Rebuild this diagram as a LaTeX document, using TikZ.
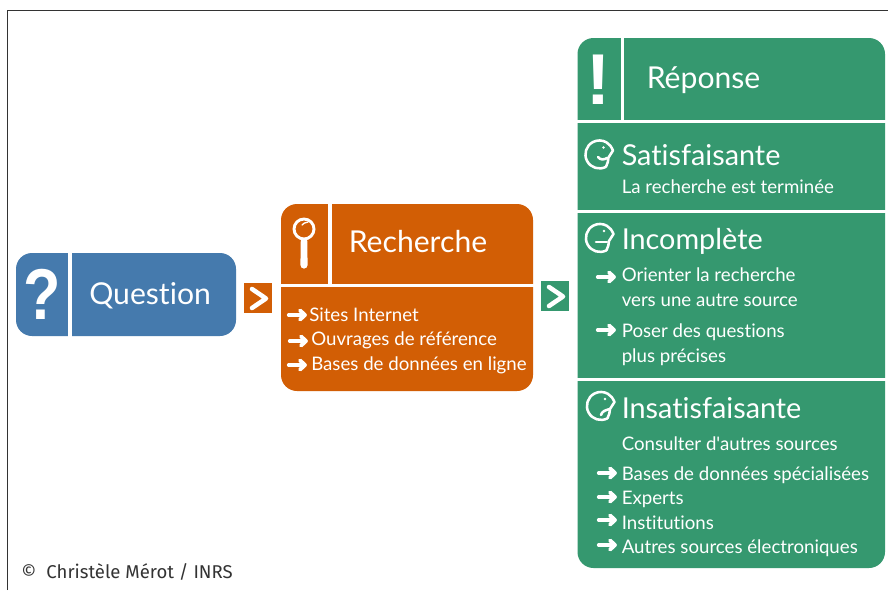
\documentclass[tikz,border=0pt]{standalone}
\usepackage{fontspec}
\setmainfont{Lato}
\newfontfamily\latoplain{Lato}[Ligatures=NoCommon]
\newfontfamily\credit{Fira Sans}
\newfontfamily\signfont{Liberation Sans}
\definecolor{qblue}{HTML}{457AAD}
\definecolor{rorange}{HTML}{D25E05}
\definecolor{agreen}{HTML}{35986F}
\definecolor{ink}{HTML}{333333}
\tikzset{
  title/.style={anchor=base west,inner sep=0pt,text=white,font=\latoplain\fontsize{22.6}{26}\selectfont},
  state/.style={anchor=base west,inner sep=0pt,text=white,font=\latoplain\fontsize{21.6}{26}\selectfont},
  body/.style={anchor=base west,inner sep=0pt,text=white,font=\latoplain\fontsize{14}{16}\selectfont},
  mark sign/.style={anchor=center,inner sep=0pt,text=white,font=\signfont\fontsize{54}{54}\selectfont\bfseries},
  sep/.style={draw=white,line width=2.4pt},
  whiteline/.style={draw=white,line width=1.9pt,line cap=round,line join=round},
  chev/.style={draw=white,line width=3.4pt,line cap=round,line join=round},
  pics/goarrow/.style={code={
    \draw[draw=white,line width=2.4pt,line cap=round] (-8.5,0) -- (6,0);
    \draw[draw=white,line width=2.9pt,line cap=round,line join=round] (3,-4.6) -- (8,0) -- (3,4.6);
  }},
  pics/headshape/.style={code={
    \draw[whiteline] (6.5,12.3) arc[start angle=62,end angle=300,radius=14]
      .. controls (10,-10.5) and (12,-7.5) .. (13.5,-4) -- (9,3) .. controls (9,6) and (8,9) .. (6.5,12.3);
    \fill[white] (4,-7) circle[radius=1.4];
  }}
}
\begin{document}
\begin{tikzpicture}[x=0.75pt,y=-0.75pt]
\useasboundingbox (0,0) rectangle (888,590);
\fill[white] (0,0) rectangle (888,590);
\draw[draw=ink,line width=0.9pt] (7.5,590) -- (7.5,10.5) -- (888,10.5);

% Question panel
\fill[qblue,rounded corners=12pt] (16,253) rectangle (236,336);
\draw[sep] (70,252) -- (70,337);
\node[mark sign,xscale=0.85] (qmark) at (42,294) {?};
\node[title] (question) at (89,304) {Question};

% first chevron
\fill[rorange] (244,283) rectangle (272,313);
\draw[chev] (252,289) -- (266,298.5) -- (252,308);

% Recherche panel
\fill[rorange,rounded corners=12pt] (281,204) rectangle (533,391);
\draw[sep] (330,203) -- (330,285);
\draw[sep] (280,285.5) -- (534,285.5);
\draw[draw=white,line width=2.2pt] (304,229) circle[radius=10];
\fill[white] (300.8,238) -- (307.2,238) -- (307.6,265) arc[start angle=0,end angle=180,radius=3.6] -- cycle;
\draw[draw=white,line width=1pt,line cap=round] (302,225) .. controls (303,223.5) and (305,222.5) .. (308,222);
\node[title] (recherche) at (348.5,252) {Recherche};
\pic at (297,315) {goarrow};
\node[body] (r1) at (309,321) {Sites Internet};
\pic at (298,341) {goarrow};
\node[body] (r2) at (311,345) {Ouvrages de référence};
\pic at (297,365) {goarrow};
\node[body] (r3) at (311,370) {Bases de données en ligne};

% second chevron
\fill[agreen] (541,281) rectangle (569,311);
\draw[chev] (549,287) -- (563,296.5) -- (549,306);

% Reponse panel
\fill[agreen,rounded corners=12pt] (577.5,38) rectangle (885,568);
\draw[sep] (622.5,37) -- (622.5,121);
\draw[sep] (576,121.5) -- (886,121.5);
\draw[sep] (576,211.5) -- (886,211.5);
\draw[sep] (576,379.5) -- (886,379.5);
\node[mark sign] (emark) at (598,80) {!};
\node[title] (reponse) at (646.5,88) {Réponse};

\pic at (599.5,154.5) {headshape};
\draw[whiteline] (598,157) .. controls (600,160) and (604,160) .. (607,158);
\node[state] (s1) at (621.5,165) {Satisfaisante};
\node[body] (s2) at (621.5,193) {La recherche est terminée};

\pic at (600,238) {headshape};
\draw[whiteline] (596,242) -- (607,242);
\node[state] (i1) at (621.5,249) {Incomplète};
\pic at (606,277) {goarrow};
\node[body] (i2) at (621.5,281) {Orienter la recherche};
\node[body] (i3) at (621.5,306) {vers une autre source};
\pic at (606,330) {goarrow};
\node[body] (i4) at (621.5,337) {Poser des questions};
\node[body] (i5) at (621.5,362) {plus précises};

\pic at (601,406) {headshape};
\draw[whiteline] (601,415) .. controls (602,411) and (606,410) .. (610,409);
\node[state] (n1) at (621.5,418) {Insatisfaisante};
\node[body] (n2) at (621.5,450) {Consulter d'autres sources};
\pic at (607,473) {goarrow};
\node[body] (n3) at (621.5,480) {Bases de données spécialisées};
\pic at (607,497) {goarrow};
\node[body] (n4) at (621.5,504) {Experts};
\pic at (607,520) {goarrow};
\node[body] (n5) at (621.5,529) {Institutions};
\pic at (607,545) {goarrow};
\node[body] (n6) at (621.5,553) {Autres sources électroniques};

\node[anchor=base west,inner sep=0pt,text=ink,font=\credit\fontsize{13.9}{16}\selectfont] (copy) at (21,578) {©\hspace{0.55em}Christèle Mérot / INRS};
\end{tikzpicture}
\end{document}
